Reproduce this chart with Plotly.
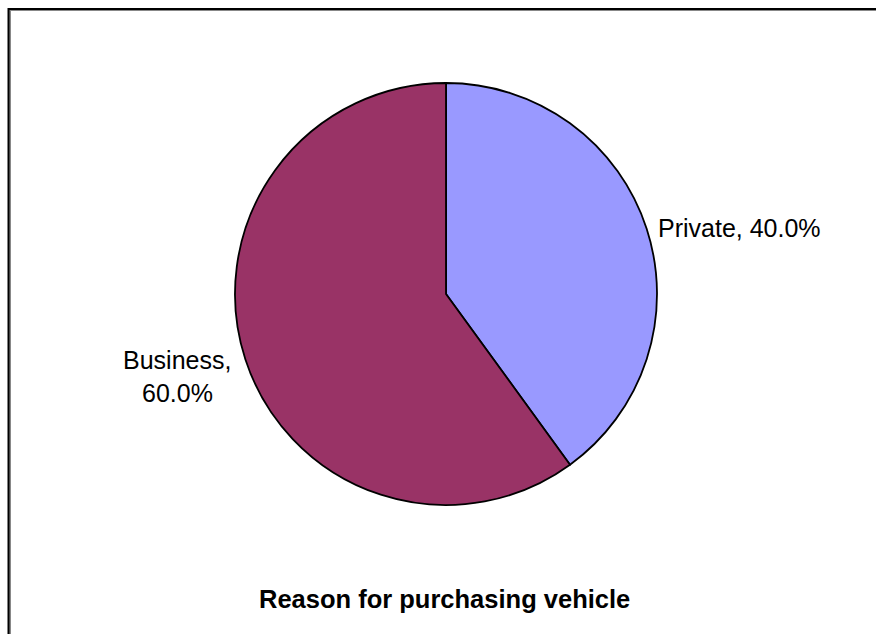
import plotly.graph_objects as go

W, H = 876, 634
labels = ["Private", "Business"]
values = [40.0, 60.0]
colors = ["#9999FF", "#993366"]
title_text = "Reason for purchasing vehicle"

# pie geometry in pixels
cx, cy, r = 446, 294, 211

fig = go.Figure(go.Pie(
    labels=labels, values=values, sort=False, direction="clockwise", rotation=0,
    marker=dict(colors=colors, line=dict(color="black", width=1.8)),
    textinfo="none", hoverinfo="label+percent", showlegend=False,
    domain=dict(x=[(cx - r) / W, (cx + r) / W], y=[1 - (cy + r) / H, 1 - (cy - r) / H]),
))

total = sum(values)
pct = [f"{v / total * 100:.1f}%" for v in values]
font = dict(family="Liberation Sans, Arial, sans-serif", size=25, color="black")

anns = [
    dict(x=656 / W, y=1 - 228 / H, xanchor="left", yanchor="middle",
         text=f"{labels[0]}, {pct[0]}"),
    dict(x=177 / W, y=1 - 360 / H, xanchor="center", yanchor="middle",
         text=f"{labels[1]},"),
    dict(x=177 / W, y=1 - 393 / H, xanchor="center", yanchor="middle",
         text=pct[1]),
    dict(x=444 / W, y=1 - 599 / H, xanchor="center", yanchor="middle",
         text=f"<b>{title_text}</b>",
         font=dict(family="Liberation Sans, Arial, sans-serif", size=25.5, color="black")),
]
for a in anns:
    a.update(xref="paper", yref="paper", showarrow=False)
    a.setdefault("font", font)

fig.update_layout(
    width=W, height=H, margin=dict(l=0, r=0, t=0, b=0),
    paper_bgcolor="white", plot_bgcolor="white",
    annotations=anns,
    shapes=[
        dict(type="rect", xref="paper", yref="paper",
             x0=10 / W, x1=1.2, y0=-0.2, y1=1 - 10 / H,
             line=dict(color="#888888", width=2)),
        dict(type="rect", xref="paper", yref="paper",
             x0=8.5 / W, x1=1.2, y0=-0.2, y1=1 - 9 / H,
             line=dict(color="black", width=2)),
    ],
)
fig.write_html("out.html")
